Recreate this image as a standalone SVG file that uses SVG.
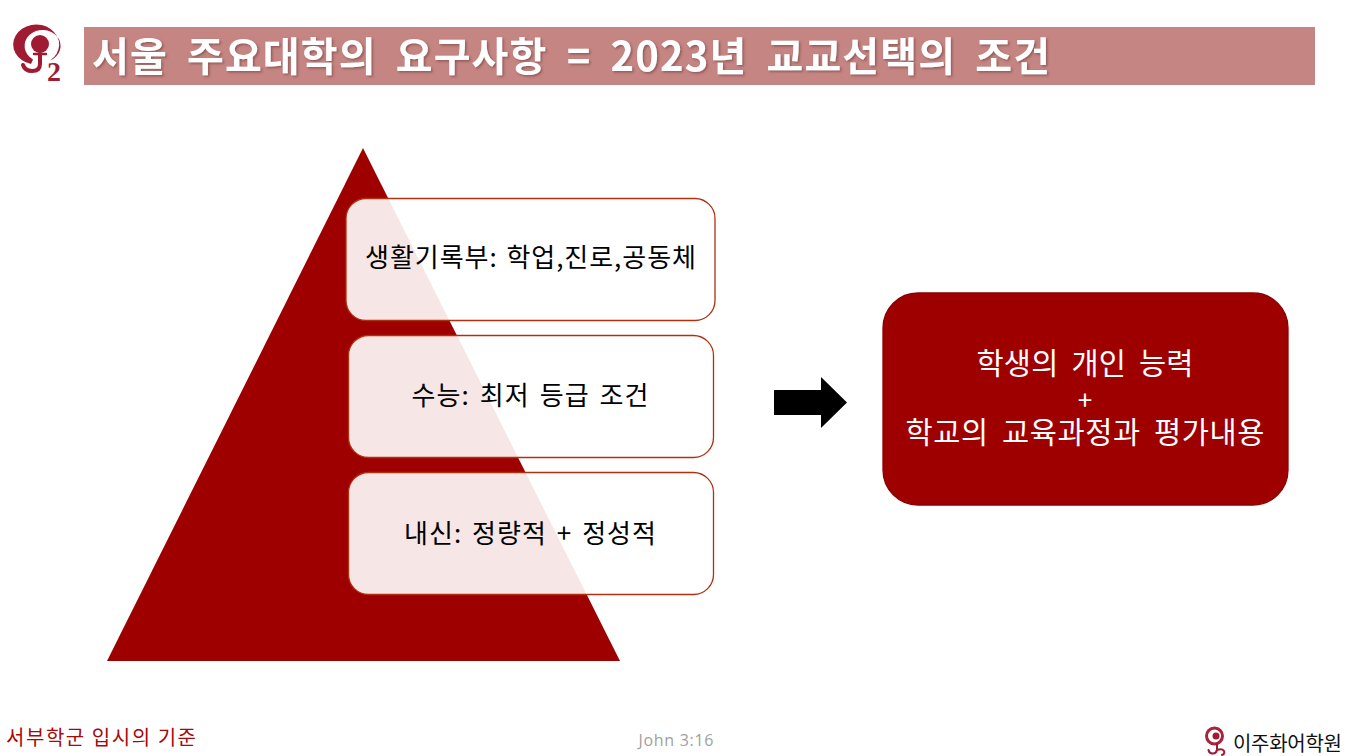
<svg xmlns="http://www.w3.org/2000/svg" width="1347" height="756" viewBox="0 0 1347 756">
<style>
text{font-family:"Noto Sans CJK KR","Noto Sans",sans-serif}
.box{fill:#fff;fill-opacity:.9;stroke:#b0300f;stroke-width:1.3}
.lbl{font-size:26px;fill:#000;text-anchor:middle;word-spacing:3px}
.wht{font-size:29.500px;fill:#fff;text-anchor:middle;word-spacing:6px}
.mark{fill:#9e1b32}
.line{fill:none;stroke:#9e1b32;stroke-linecap:round}
</style>
<defs>
<filter id="shadow" x="-5%" y="-20%" width="110%" height="140%"><feDropShadow dx="1.500" dy="1.500" stdDeviation="1" flood-color="#6e3a38" flood-opacity=".6"/></filter>
</defs>
<rect x="0" y="0" width="1347" height="756" fill="#fff"/>
<g id="header">
<rect x="84" y="27" width="1231" height="58" fill="#c58583"/>
<text x="92" y="71" font-size="40" font-weight="700" fill="#fff" word-spacing="9" textLength="958" filter="url(#shadow)">서울 주요대학의 요구사항 = 2023년 교교선택의 조건</text>
</g>
<g id="logo-top">
<path class="mark" d="M31 64A23 20 0 1 1 50 60.500A18 16 0 1 0 33 59.500Z"/>
<circle class="mark" cx="40" cy="44" r="9"/>
<path class="line" stroke-width="4" d="M40 54V64Q40 71 32 71Q25 71 23 65"/>
<path class="line" stroke-width="2.500" d="M34 54H46"/>
<text x="47" y="81" font-size="28" font-weight="700" fill="#9e1b32" style="font-family:'Liberation Serif',serif">2</text>
</g>
<g id="pyramid"><polygon points="363,148 620,661 107,661" fill="#9e0000"/></g>
<g id="node-1">
<rect class="box" x="346" y="198.500" width="369" height="122" rx="20"/>
<text class="lbl" x="530.500" y="267" textLength="331" style="word-spacing:2px">생활기록부: 학업,진로,공동체</text>
</g>
<g id="node-2">
<rect class="box" x="348.500" y="335.500" width="365" height="122" rx="20"/>
<text class="lbl" x="530" y="405" textLength="237">수능: 최저 등급 조건</text>
</g>
<g id="node-3">
<rect class="box" x="348.500" y="472.500" width="365" height="122" rx="20"/>
<text class="lbl" x="530" y="543" textLength="252">내신: 정량적 + 정성적</text>
</g>
<g id="connectors">
<polygon points="774,390 821,390 821,377 847,402.500 821,428 821,415 774,415" fill="#000"/>
</g>
<g id="result">
<rect x="883" y="293" width="405" height="212" rx="35" fill="#9e0000" stroke="#8a0000" stroke-width="1.300"/>
<text class="wht" x="1085" y="374" textLength="217">학생의 개인 능력</text>
<text class="wht" x="1085" y="410" style="font-size:26px">+</text>
<text class="wht" x="1085" y="443" textLength="359">학교의 교육과정과 평가내용</text>
</g>
<g id="footer">
<text x="6" y="745" font-size="20" fill="#a80808" textLength="190">서부학군 입시의 기준</text>
<text x="676" y="746" font-size="16" fill="#a0a0a0" text-anchor="middle" textLength="75" style="font-family:'Open Sans',sans-serif">John 3:16</text>
</g>
<g id="logo-bottom">
<circle cx="1214.500" cy="736" r="8" fill="none" stroke="#a8243c" stroke-width="3"/>
<circle class="mark" cx="1216" cy="736" r="3.500"/>
<path class="line" stroke-width="2" d="M1217 744V750Q1216 754 1212 753.500Q1209 753 1208.500 750M1217 750Q1222 748 1224 751Q1225 754 1222 755"/>
<text x="1233" y="751" font-size="20" fill="#111" textLength="109">이주화어학원</text>
</g>
</svg>
